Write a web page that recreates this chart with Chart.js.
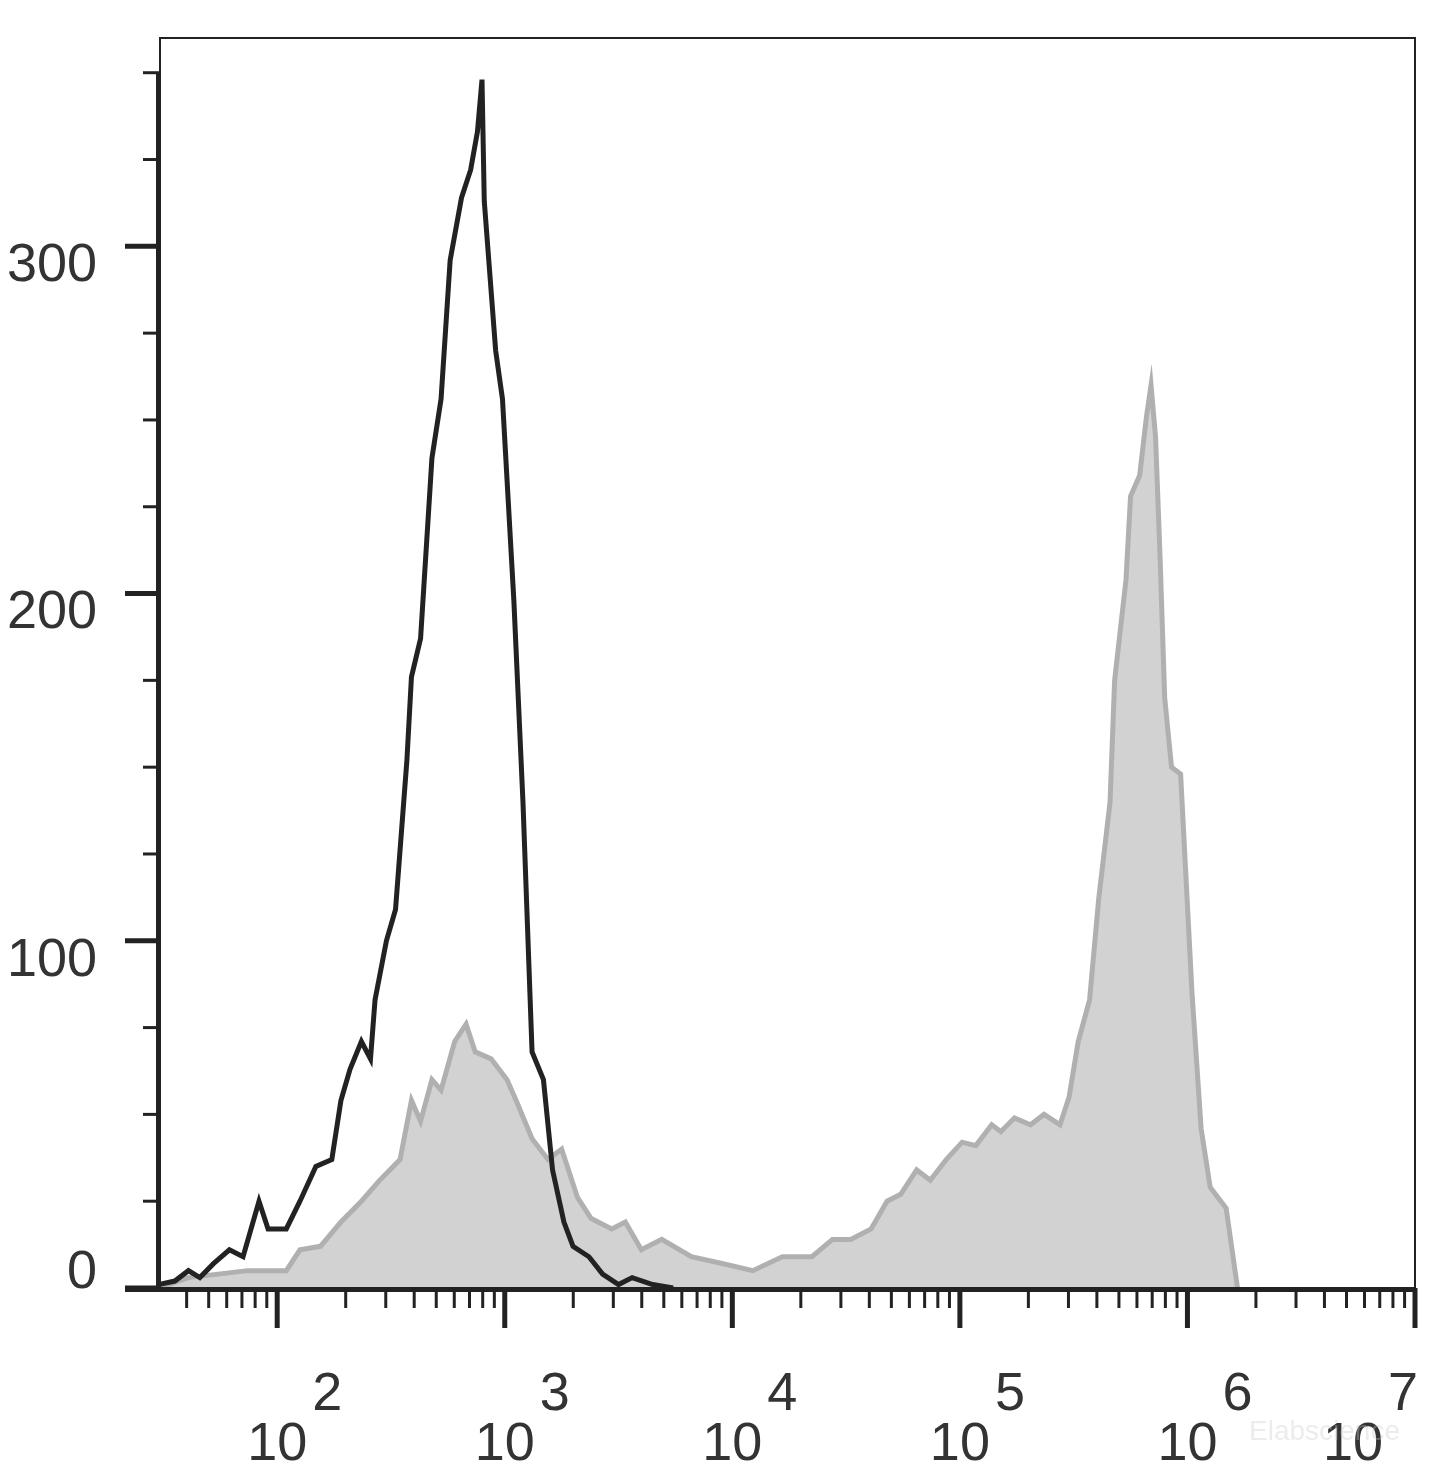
<!DOCTYPE html>
<html>
<head>
<meta charset="utf-8">
<script src="https://cdn.jsdelivr.net/npm/chart.js@4"></script>
<style>
  html, body { margin: 0; padding: 0; background: #fff; }
  #wrap { width: 1445px; height: 1473px; }
</style>
</head>
<body>
<div id="wrap"><canvas id="histChart"></canvas></div>
<script>
// Fluorescence intensity (log10) and event counts
const blackLog = [1.48,1.55,1.61,1.66,1.72,1.79,1.85,1.92,1.96,2.04,2.10,2.17,2.24,2.28,2.32,2.37,2.41,2.43,2.48,2.52,2.57,2.59,2.63,2.68,2.72,2.76,2.81,2.85,2.88,2.90,2.91,2.96,2.99,3.04,3.08,3.12,3.17,3.21,3.26,3.30,3.37,3.43,3.50,3.56,3.65,3.74];
const blackCount = [1,2,5,3,7,11,9,25,17,17,25,35,37,54,63,71,66,83,100,109,152,176,187,239,256,296,314,322,333,348,313,270,256,198,140,68,60,34,19,12,9,4,1,3,1,0];
const grayLog = [1.48,1.61,1.74,1.87,2.04,2.10,2.19,2.28,2.37,2.45,2.54,2.59,2.63,2.68,2.72,2.78,2.83,2.87,2.94,3.01,3.05,3.12,3.19,3.25,3.32,3.38,3.47,3.53,3.60,3.69,3.82,3.96,4.09,4.22,4.35,4.44,4.52,4.61,4.68,4.74,4.81,4.87,4.94,5.01,5.07,5.14,5.18,5.24,5.31,5.37,5.44,5.48,5.52,5.57,5.61,5.66,5.68,5.73,5.75,5.79,5.82,5.84,5.86,5.88,5.90,5.93,5.97,6.02,6.06,6.10,6.17,6.22];
const grayCount = [0,3,4,5,5,11,12,19,25,31,37,54,48,60,57,71,76,68,66,60,54,43,37,40,26,20,17,19,11,14,9,7,5,9,9,14,14,17,25,27,34,31,37,42,41,47,45,49,47,50,47,55,71,83,112,140,175,204,228,234,251,260,245,210,170,150,148,85,46,29,23,0];

// Axis ticks
const yMajor = [0, 100, 200, 300];
const yMinor = [25, 50, 75, 125, 150, 175, 225, 250, 275, 325, 350];
const xDecades = [2, 3, 4, 5, 6, 7];
const xMin = 1.485, xMax = 7.0;

const toPts = (xs, ys) => xs.map((x, i) => ({ x: x, y: ys[i] }));

const axesPlugin = {
  id: 'flowAxes',
  afterDraw(c) {
    const ctx = c.ctx, a = c.chartArea;
    const xs = c.scales.x, ys = c.scales.y;
    ctx.save();
    ctx.strokeStyle = '#222';
    ctx.lineWidth = 2;
    ctx.strokeRect(a.left, a.top, a.right - a.left, a.bottom - a.top);
    ctx.lineWidth = 4;
    ctx.beginPath();
    ctx.moveTo(a.left - 2, ys.getPixelForValue(0) + 2);
    ctx.lineTo(a.left - 2, 72);
    ctx.moveTo(125, a.bottom + 2);
    ctx.lineTo(a.right, a.bottom + 2);
    ctx.stroke();
    ctx.lineWidth = 3;
    yMinor.forEach(v => {
      const p = ys.getPixelForValue(v);
      ctx.beginPath(); ctx.moveTo(143, p); ctx.lineTo(a.left, p); ctx.stroke();
    });
    ctx.lineWidth = 5;
    yMajor.forEach(v => {
      const p = ys.getPixelForValue(v);
      ctx.beginPath(); ctx.moveTo(125, p); ctx.lineTo(a.left, p); ctx.stroke();
    });
    ctx.fillStyle = '#333';
    const font = '"Liberation Sans", Arial, sans-serif';
    ctx.font = '54px ' + font;
    ctx.textAlign = 'right';
    ctx.textBaseline = 'middle';
    yMajor.forEach(v => {
      const p = ys.getPixelForValue(v);
      ctx.fillText(String(v), 97, p + (v === 0 ? -15 : 20));
    });
    for (let d = 1; d <= 6; d++) {
      for (let m = 2; m <= 9; m++) {
        const lv = d + Math.log10(m);
        if (lv < xMin || lv > xMax) continue;
        const p = xs.getPixelForValue(lv);
        ctx.lineWidth = 3;
        ctx.beginPath(); ctx.moveTo(p, a.bottom); ctx.lineTo(p, a.bottom + 20); ctx.stroke();
      }
    }
    ctx.lineWidth = 5;
    xDecades.forEach(d => {
      const p = xs.getPixelForValue(d);
      ctx.beginPath(); ctx.moveTo(p, a.bottom); ctx.lineTo(p, a.bottom + 40); ctx.stroke();
    });
    ctx.textBaseline = 'alphabetic';
    xDecades.forEach(d => {
      let p = xs.getPixelForValue(d);
      if (d === 7) p -= 62;
      ctx.font = '54px ' + font;
      ctx.textAlign = 'center';
      ctx.fillText('10', p, 1460);
      ctx.textAlign = 'left';
      ctx.fillText(String(d), p + 35, 1410);
    });
    ctx.fillStyle = 'rgba(200,200,200,0.35)';
    ctx.font = '28px ' + font;
    ctx.textAlign = 'right';
    ctx.fillText('Elabscience', 1400, 1440);
    ctx.restore();
  }
};

new Chart(document.getElementById('histChart'), {
  type: 'line',
  data: {
    datasets: [
      {
        label: 'Control',
        data: toPts(blackLog, blackCount),
        borderColor: '#222',
        borderWidth: 5,
        fill: false,
        pointRadius: 0,
        tension: 0,
        order: 0
      },
      {
        label: 'Stained',
        data: toPts(grayLog, grayCount),
        borderColor: '#b0b0b0',
        backgroundColor: '#d2d2d2',
        borderWidth: 5,
        fill: 'origin',
        pointRadius: 0,
        tension: 0,
        order: 1
      }
    ]
  },
  options: {
    responsive: true,
    maintainAspectRatio: false,
    animation: false,
    layout: { padding: { left: 160, right: 30, top: 38, bottom: 185 } },
    plugins: { legend: { display: false }, tooltip: { enabled: false } },
    scales: {
      x: { type: 'linear', min: xMin, max: xMax, display: false },
      y: { type: 'linear', min: 0, max: 360, display: false }
    }
  },
  plugins: [axesPlugin]
});
</script>
</body>
</html>
